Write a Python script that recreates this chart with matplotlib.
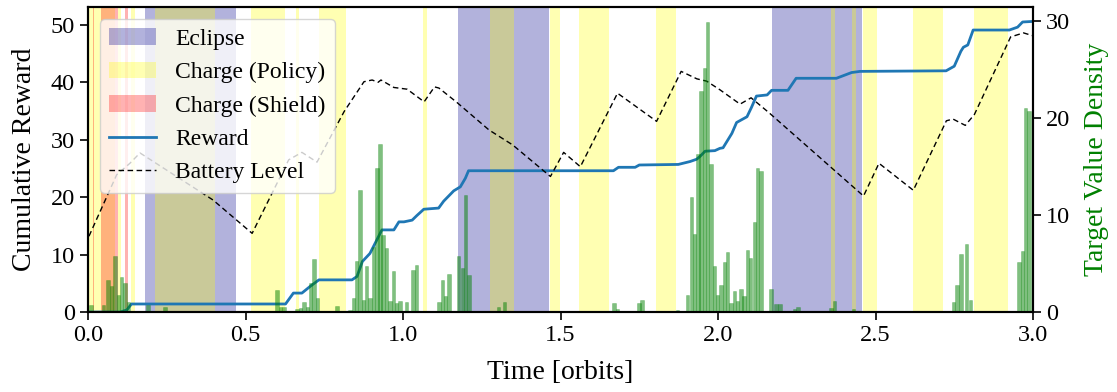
import numpy as np
import matplotlib
matplotlib.use("Agg")
import matplotlib.pyplot as plt

plt.rcParams['font.family'] = 'serif'
plt.rcParams['font.serif'] = ['Liberation Serif', 'DejaVu Serif']
plt.rcParams['mathtext.fontset'] = 'stix'

# mode intervals [orbits]
eclipse = [(0.181, 0.469), (1.175, 1.463), (2.171, 2.457)]
charge_policy = [(0.004, 0.041), (0.041, 0.086), (0.094, 0.105), (0.137, 0.149),
                 (0.213, 0.403), (0.517, 0.625), (0.660, 0.670), (0.733, 0.819),
                 (1.063, 1.076), (1.276, 1.352), (1.467, 1.498), (1.559, 1.654),
                 (1.803, 1.867), (2.359, 2.371), (2.425, 2.438), (2.460, 2.505),
                 (2.619, 2.714), (2.813, 2.921)]
charge_shield = [(0.016, 0.019), (0.041, 0.086), (0.086, 0.094), (0.117, 0.128)]

# cumulative reward
reward_t = [0.0, 0.102, 0.123, 0.138, 0.627, 0.652, 0.679, 0.706, 0.733, 0.838,
            0.854, 0.871, 0.895, 0.933, 0.971, 0.987, 1.003, 1.029, 1.044, 1.066,
            1.113, 1.129, 1.161, 1.182, 1.198, 1.208, 1.668, 1.684, 1.737, 1.750,
            1.874, 1.911, 1.932, 1.943, 1.959, 1.990, 2.006, 2.016, 2.044, 2.059,
            2.092, 2.106, 2.122, 2.156, 2.170, 2.222, 2.248, 2.376, 2.424, 2.451,
            2.724, 2.750, 2.771, 2.779, 2.793, 2.810, 2.925, 2.951, 2.967, 3.0]
reward = [0.0, 0.0, 0.35, 1.4, 1.4, 3.3, 3.3, 4.5, 5.6, 5.6,
          6.2, 8.8, 10.2, 14.3, 14.3, 15.7, 15.7, 16.0, 16.8, 17.9,
          18.1, 19.3, 21.1, 21.8, 23.3, 24.6, 24.6, 25.2, 25.2, 25.6,
          25.7, 26.2, 26.6, 27.1, 28.0, 28.1, 28.5, 28.6, 31.1, 33.0,
          34.0, 35.6, 37.6, 37.8, 38.6, 38.6, 40.7, 40.7, 41.7, 41.9,
          42.0, 42.8, 45.4, 46.1, 46.5, 49.1, 49.1, 49.6, 50.5, 50.6]

# battery level
battery_t = [0.003, 0.091, 0.133, 0.165, 0.397, 0.521, 0.637, 0.679, 0.727, 0.813,
             0.876, 0.902, 0.921, 0.930, 0.971, 1.013, 1.067, 1.100, 1.114, 1.171,
             1.273, 1.348, 1.468, 1.510, 1.563, 1.681, 1.805, 1.883, 1.933, 1.964,
             2.006, 2.070, 2.105, 2.162, 2.462, 2.511, 2.620, 2.725, 2.746, 2.785,
             2.814, 2.929, 2.970, 3.0]
battery = [13.2, 23.9, 25.9, 27.7, 19.5, 13.7, 26.5, 27.8, 26.1, 34.9,
           40.1, 40.4, 40.0, 40.4, 39.1, 38.8, 36.6, 39.2, 39.0, 36.5,
           31.7, 29.1, 23.6, 27.8, 25.3, 38.1, 33.2, 41.9, 40.6, 40.2,
           38.7, 36.2, 37.3, 34.7, 20.2, 25.9, 21.2, 33.3, 33.6, 32.5,
           34.4, 47.9, 48.6, 48.1]

# target value density
target_t = [0.010, 0.049, 0.063, 0.075, 0.086, 0.096, 0.107, 0.117, 0.128, 0.191,
            0.244, 0.600, 0.611, 0.622, 0.663, 0.675, 0.686, 0.696, 0.707, 0.717,
            0.728, 0.791, 0.832, 0.842, 0.853, 0.863, 0.874, 0.885, 0.895, 0.906,
            0.917, 0.927, 0.937, 0.948, 0.959, 0.969, 0.980, 0.990, 1.011, 1.032,
            1.043, 1.114, 1.125, 1.135, 1.146, 1.177, 1.188, 1.198, 1.209, 1.304,
            1.323, 1.670, 1.680, 1.749, 1.759, 1.871, 1.904, 1.915, 1.925, 1.936,
            1.946, 1.957, 1.967, 1.978, 1.989, 1.999, 2.010, 2.020, 2.031, 2.041,
            2.052, 2.062, 2.073, 2.083, 2.094, 2.104, 2.115, 2.126, 2.136, 2.168,
            2.184, 2.197, 2.243, 2.254, 2.359, 2.370, 2.431, 2.748, 2.759, 2.771,
            2.789, 2.801, 2.956, 2.966, 2.977, 2.987]
target = [0.7, 0.7, 3.3, 2.7, 5.8, 1.8, 3.6, 3.0, 1.0, 0.7,
          0.5, 2.3, 0.5, 0.5, 0.3, 0.45, 1.0, 0.5, 3.0, 5.5,
          1.4, 0.6, 0.2, 1.4, 5.3, 12.6, 1.2, 4.7, 1.4, 6.7,
          14.8, 17.3, 7.9, 6.6, 1.1, 4.2, 0.9, 1.1, 1.0, 4.3,
          4.8, 1.0, 3.3, 1.6, 3.9, 5.8, 4.5, 12.1, 3.8, 0.5,
          1.0, 0.9, 0.3, 0.9, 1.2, 0.2, 1.8, 11.8, 8.0, 16.3,
          22.8, 25.1, 29.9, 15.2, 4.7, 1.8, 2.8, 5.1, 6.2, 0.9,
          2.2, 1.1, 2.4, 1.7, 6.4, 5.6, 9.3, 14.8, 14.5, 2.4,
          0.8, 0.8, 0.3, 0.5, 0.4, 1.1, 0.3, 1.0, 2.8, 6.0,
          7.0, 1.2, 5.1, 6.3, 21.0, 20.7]

fig, ax = plt.subplots(figsize=(11.17, 3.92), dpi=100)
fig.subplots_adjust(left=0.0788, right=0.9248, bottom=0.204, top=0.982)

h_ecl = h_pol = h_sh = None
for a, b in eclipse:
    h_ecl = ax.axvspan(a, b, color='darkblue', alpha=0.3, lw=0)
for a, b in charge_policy:
    h_pol = ax.axvspan(a, b, color='yellow', alpha=0.3, lw=0)
for a, b in charge_shield:
    h_sh = ax.axvspan(a, b, color='red', alpha=0.3, lw=0)

h_rew, = ax.plot(reward_t, reward, color='tab:blue', lw=2)
h_bat, = ax.plot(battery_t, battery, color='k', ls='--', lw=1, dashes=(4, 2.5))

ax.set_xlim(0, 3)
ax.set_ylim(0, 53.1)
ax.set_xlabel('Time [orbits]', fontsize=20, labelpad=10)
ax.set_ylabel('Cumulative Reward', fontsize=20, labelpad=10)
ax.tick_params(labelsize=17.5, width=1.2, length=6)

ax.legend([h_ecl, h_pol, h_sh, h_rew, h_bat],
          ['Eclipse', 'Charge (Policy)', 'Charge (Shield)', 'Reward', 'Battery Level'],
          loc='upper left', fontsize=17)

ax2 = ax.twinx()
ax2.bar(target_t, target, width=0.0108, color=(0, 0.5, 0, 0.5),
        edgecolor=(0, 0.5, 0, 0.3), lw=0.5)
ax2.set_ylim(0, 31.4)
ax2.set_ylabel('Target Value Density', color='green', fontsize=20, labelpad=10)
ax2.tick_params(labelsize=17.5, width=1.2, length=6)
for s in list(ax.spines.values()) + list(ax2.spines.values()):
    s.set_linewidth(1.5)

fig.savefig('out.png')
